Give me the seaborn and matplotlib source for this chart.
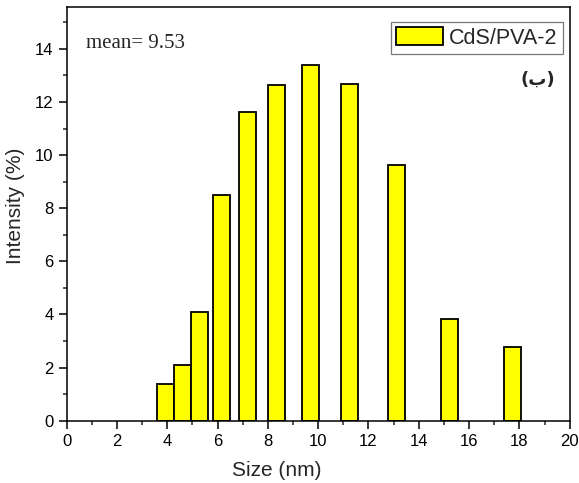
import matplotlib
matplotlib.use("Agg")
import matplotlib.pyplot as plt
import seaborn as sns
import pandas as pd
from matplotlib.ticker import MultipleLocator

# size distribution
sizes = [3.92, 4.60, 5.30, 6.16, 7.20, 8.34, 9.69, 11.26, 13.10, 15.22, 17.71]
intensity = [1.37, 2.09, 4.11, 8.50, 11.62, 12.64, 13.41, 12.67, 9.64, 3.83, 2.78]
series_label = "CdS/PVA-2"
mean_text = "mean= 9.53"
panel_tag = "(ب)"

df = pd.DataFrame({"size": sizes, "intensity": intensity})

sns.set_style("ticks")
plt.rcParams["font.family"] = ["Liberation Sans", "DejaVu Sans"]

fig = plt.figure(figsize=(5.79, 4.83), dpi=100)
ax = fig.add_axes([0.115, 0.129, 0.869, 0.856])

sns.barplot(data=df, x="size", y="intensity", native_scale=True, width=1.0,
            color="#FFFF00", saturation=1, edgecolor="black", linewidth=1.3,
            label=series_label, ax=ax)

ax.set_xlim(0, 20)
ax.set_ylim(0, 15.57)
ax.xaxis.set_major_locator(MultipleLocator(2))
ax.xaxis.set_minor_locator(MultipleLocator(1))
ax.yaxis.set_major_locator(MultipleLocator(2))
ax.yaxis.set_minor_locator(MultipleLocator(1))
ax.xaxis.set_major_formatter(matplotlib.ticker.FormatStrFormatter("%d"))
ax.tick_params(which="major", direction="out", length=6, width=1.1, labelsize=12, colors="black")
ax.tick_params(which="minor", direction="out", length=3.2, width=1.1)

for sp in ax.spines.values():
    sp.set_visible(True)
    sp.set_linewidth(1.1)
    sp.set_color("black")

ax.set_xlabel("Size (nm)", fontsize=15)
ax.set_ylabel("Intensity (%)", fontsize=15)
ax.xaxis.set_label_coords(0.418, -0.097)
ax.yaxis.set_label_coords(-0.082, 0.52)

ax.text(0.77, 14.2, mean_text, fontsize=15, family="Liberation Serif",
        ha="left", va="center")
ax.text(19.4, 12.85, panel_tag, fontsize=13, fontweight="bold",
        family="DejaVu Sans", ha="right", va="center")

leg = ax.legend(loc="upper right", bbox_to_anchor=(0.986, 0.9645), fontsize=15.5,
                frameon=True, fancybox=False, handlelength=2.2, handleheight=0.9,
                borderpad=0.25, handletextpad=0.25, borderaxespad=0)
leg.get_frame().set_edgecolor("#555555")
leg.get_frame().set_linewidth(0.9)

fig.savefig("out.png", dpi=100)
